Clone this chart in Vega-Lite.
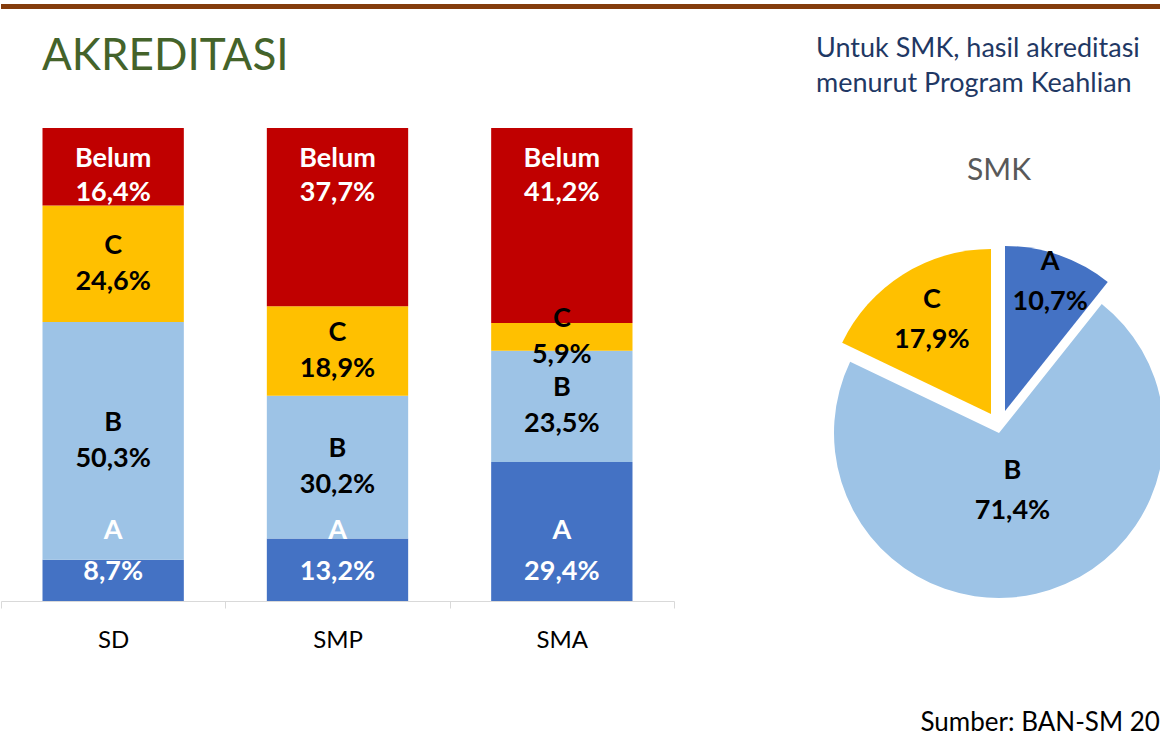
{
  "$schema": "https://vega.github.io/schema/vega-lite/v6.json",
  "background": "white",
  "padding": 0,
  "spacing": 23,
  "config": {
    "font": "Lato",
    "view": {"stroke": null},
    "locale": {"number": {"decimal": ",", "thousands": ".", "grouping": [3], "currency": ["", ""]}},
    "title": {"baseline": "top"}
  },
  "title": {"text": "Sumber: BAN-SM 20", "orient": "bottom", "anchor": "start", "frame": "bounds", "dx": 920, "offset": 58, "fontSize": 26, "fontWeight": "normal", "color": "black", "font": "Lato"},
  "vconcat": [
    {
      "width": 1160, "height": 5,
      "view": {"fill": "#843C0C", "stroke": null},
      "data": {"values": [{}]},
      "mark": {"type": "text"},
      "encoding": {"text": {"value": ""}}
    },
    {
      "spacing": 141,
      "hconcat": [
        {
          "width": 673, "height": 473,
          "title": {"text": "AKREDITASI", "anchor": "start", "frame": "group", "dx": 41, "offset": 49, "fontSize": 44, "fontWeight": "normal", "color": "#44632A", "font": "Lato"},
          "data": {"values": [
            {"level": "SD", "cat": "A", "pct": 0.087},
            {"level": "SD", "cat": "B", "pct": 0.503},
            {"level": "SD", "cat": "C", "pct": 0.246},
            {"level": "SD", "cat": "Belum", "pct": 0.164},
            {"level": "SMP", "cat": "A", "pct": 0.132},
            {"level": "SMP", "cat": "B", "pct": 0.302},
            {"level": "SMP", "cat": "C", "pct": 0.189},
            {"level": "SMP", "cat": "Belum", "pct": 0.377},
            {"level": "SMA", "cat": "A", "pct": 0.294},
            {"level": "SMA", "cat": "B", "pct": 0.235},
            {"level": "SMA", "cat": "C", "pct": 0.059},
            {"level": "SMA", "cat": "Belum", "pct": 0.412}
          ]},
          "transform": [{"stack": "pct", "groupby": ["level"], "as": ["y0", "y1"]}],
          "encoding": {
            "x": {
              "field": "level", "type": "nominal", "sort": ["SD", "SMP", "SMA"],
              "scale": {"paddingInner": 0, "paddingOuter": 0},
              "axis": {"title": null, "labelAngle": 0, "labelFont": "Lato", "labelFontSize": 24, "labelColor": "black", "domainColor": "#D9D9D9", "tickColor": "#D9D9D9", "tickBand": "extent", "tickSize": 7, "labelPadding": 20, "labelBaseline": "top"}
            }
          },
          "layer": [
            {
              "mark": {"type": "bar", "width": {"band": 0.63}},
              "encoding": {
                "y": {"field": "y0", "type": "quantitative", "scale": {"domain": [0, 1]}, "axis": null},
                "y2": {"field": "y1"},
                "color": {"field": "cat", "type": "nominal", "scale": {"domain": ["A", "B", "C", "Belum"], "range": ["#4472C4", "#9DC3E6", "#FFC000", "#C00000"]}, "legend": null}
              }
            },
            {
              "transform": [{"filter": "datum.cat === 'A'"}],
              "mark": {"type": "text", "dy": -70, "fontSize": 27, "fontWeight": "bold", "color": "white", "baseline": "middle"},
              "encoding": {"y": {"field": "y0", "type": "quantitative"}, "text": {"field": "cat"}}
            },
            {
              "transform": [{"filter": "datum.cat === 'A'"}],
              "mark": {"type": "text", "dy": -29, "fontSize": 27, "fontWeight": "bold", "color": "white", "baseline": "middle"},
              "encoding": {"y": {"field": "y0", "type": "quantitative"}, "text": {"field": "pct", "type": "quantitative", "format": ".1%"}}
            },
            {
              "transform": [{"filter": "datum.cat === 'Belum'"}],
              "mark": {"type": "text", "dy": 31, "fontSize": 27, "fontWeight": "bold", "color": "white", "baseline": "middle"},
              "encoding": {"y": {"field": "y1", "type": "quantitative"}, "text": {"field": "cat"}}
            },
            {
              "transform": [{"filter": "datum.cat === 'Belum'"}],
              "mark": {"type": "text", "dy": 65, "fontSize": 27, "fontWeight": "bold", "color": "white", "baseline": "middle"},
              "encoding": {"y": {"field": "y1", "type": "quantitative"}, "text": {"field": "pct", "type": "quantitative", "format": ".1%"}}
            },
            {
              "mark": {"type": "text", "dy": -18, "fontSize": 27, "fontWeight": "bold", "color": "black", "baseline": "middle"},
              "encoding": {
                "y": {"field": "pct", "type": "quantitative", "stack": "zero", "bandPosition": 0.5, "scale": {"domain": [0, 1]}},
                "order": {"field": "y0", "type": "quantitative", "sort": "ascending"},
                "text": {"field": "cat"},
                "opacity": {"condition": {"test": "datum.cat === 'B' || datum.cat === 'C'", "value": 1}, "value": 0}
              }
            },
            {
              "mark": {"type": "text", "dy": 18, "fontSize": 27, "fontWeight": "bold", "color": "black", "baseline": "middle"},
              "encoding": {
                "y": {"field": "pct", "type": "quantitative", "stack": "zero", "bandPosition": 0.5, "scale": {"domain": [0, 1]}},
                "order": {"field": "y0", "type": "quantitative", "sort": "ascending"},
                "text": {"field": "pct", "type": "quantitative", "format": ".1%"},
                "opacity": {"condition": {"test": "datum.cat === 'B' || datum.cat === 'C'", "value": 1}, "value": 0}
              }
            }
          ]
        },
        {
          "title": {"text": ["Untuk SMK, hasil akreditasi", "menurut Program Keahlian"], "anchor": "start", "frame": "group", "dx": -18, "offset": 30, "fontSize": 27, "lineHeight": 35, "fontWeight": "normal", "color": "#1F3864", "font": "Lato"},
          "vconcat": [
            {
              "width": 330, "height": 473,
              "title": {"text": "SMK", "anchor": "middle", "offset": -58, "fontSize": 30, "fontWeight": "normal", "color": "#595959", "font": "Lato"},
              "data": {"values": [
                {"cat": "A", "pct": 0.107},
                {"cat": "B", "pct": 0.714},
                {"cat": "C", "pct": 0.179}
              ]},
              "transform": [{"stack": "pct", "groupby": [], "as": ["t0", "t1"]}],
              "layer": [
                {
                  "transform": [{"filter": "datum.cat === 'A'"}],
                  "mark": {"type": "arc", "outerRadius": 165, "xOffset": 6, "yOffset": 46.5},
                  "encoding": {
                    "theta": {"field": "t0", "type": "quantitative", "scale": {"domain": [0, 1]}},
                    "theta2": {"field": "t1"},
                    "color": {"field": "cat", "type": "nominal", "scale": {"domain": ["A", "B", "C"], "range": ["#4472C4", "#9DC3E6", "#FFC000"]}, "legend": null}
                  }
                },
                {
                  "transform": [{"filter": "datum.cat === 'B'"}],
                  "mark": {"type": "arc", "outerRadius": 165, "yOffset": 68.5},
                  "encoding": {
                    "theta": {"field": "t0", "type": "quantitative", "scale": {"domain": [0, 1]}},
                    "theta2": {"field": "t1"},
                    "color": {"field": "cat", "type": "nominal", "legend": null}
                  }
                },
                {
                  "transform": [{"filter": "datum.cat === 'C'"}],
                  "mark": {"type": "arc", "outerRadius": 165, "xOffset": -8, "yOffset": 49.5},
                  "encoding": {
                    "theta": {"field": "t0", "type": "quantitative", "scale": {"domain": [0, 1]}},
                    "theta2": {"field": "t1"},
                    "color": {"field": "cat", "type": "nominal", "legend": null}
                  }
                },
                {
                  "mark": {"type": "text", "radius": 137, "xOffset": 6, "yOffset": 46.5, "dy": -20, "fontSize": 27, "fontWeight": "bold", "color": "black", "baseline": "middle"},
                  "encoding": {
                    "theta": {"field": "pct", "type": "quantitative", "stack": "zero", "scale": {"domain": [0, 1]}},
                    "order": {"field": "t0", "type": "quantitative", "sort": "ascending"},
                    "text": {"field": "cat"},
                    "opacity": {"condition": {"test": "datum.cat === 'A'", "value": 1}, "value": 0}
                  }
                },
                {
                  "mark": {"type": "text", "radius": 137, "xOffset": 6, "yOffset": 46.5, "dy": 20, "fontSize": 27, "fontWeight": "bold", "color": "black", "baseline": "middle"},
                  "encoding": {
                    "theta": {"field": "pct", "type": "quantitative", "stack": "zero", "scale": {"domain": [0, 1]}},
                    "order": {"field": "t0", "type": "quantitative", "sort": "ascending"},
                    "text": {"field": "pct", "type": "quantitative", "format": ".1%"},
                    "opacity": {"condition": {"test": "datum.cat === 'A'", "value": 1}, "value": 0}
                  }
                },
                {
                  "mark": {"type": "text", "radius": 60, "yOffset": 68.5, "dy": -20, "fontSize": 27, "fontWeight": "bold", "color": "black", "baseline": "middle"},
                  "encoding": {
                    "theta": {"field": "pct", "type": "quantitative", "stack": "zero", "scale": {"domain": [0, 1]}},
                    "order": {"field": "t0", "type": "quantitative", "sort": "ascending"},
                    "text": {"field": "cat"},
                    "opacity": {"condition": {"test": "datum.cat === 'B'", "value": 1}, "value": 0}
                  }
                },
                {
                  "mark": {"type": "text", "radius": 60, "yOffset": 68.5, "dy": 20, "fontSize": 27, "fontWeight": "bold", "color": "black", "baseline": "middle"},
                  "encoding": {
                    "theta": {"field": "pct", "type": "quantitative", "stack": "zero", "scale": {"domain": [0, 1]}},
                    "order": {"field": "t0", "type": "quantitative", "sort": "ascending"},
                    "text": {"field": "pct", "type": "quantitative", "format": ".1%"},
                    "opacity": {"condition": {"test": "datum.cat === 'B'", "value": 1}, "value": 0}
                  }
                },
                {
                  "mark": {"type": "text", "radius": 111, "xOffset": -8, "yOffset": 49.5, "dy": -20, "fontSize": 27, "fontWeight": "bold", "color": "black", "baseline": "middle"},
                  "encoding": {
                    "theta": {"field": "pct", "type": "quantitative", "stack": "zero", "scale": {"domain": [0, 1]}},
                    "order": {"field": "t0", "type": "quantitative", "sort": "ascending"},
                    "text": {"field": "cat"},
                    "opacity": {"condition": {"test": "datum.cat === 'C'", "value": 1}, "value": 0}
                  }
                },
                {
                  "mark": {"type": "text", "radius": 111, "xOffset": -8, "yOffset": 49.5, "dy": 20, "fontSize": 27, "fontWeight": "bold", "color": "black", "baseline": "middle"},
                  "encoding": {
                    "theta": {"field": "pct", "type": "quantitative", "stack": "zero", "scale": {"domain": [0, 1]}},
                    "order": {"field": "t0", "type": "quantitative", "sort": "ascending"},
                    "text": {"field": "pct", "type": "quantitative", "format": ".1%"},
                    "opacity": {"condition": {"test": "datum.cat === 'C'", "value": 1}, "value": 0}
                  }
                }
              ]
            }
          ]
        }
      ]
    }
  ]
}
